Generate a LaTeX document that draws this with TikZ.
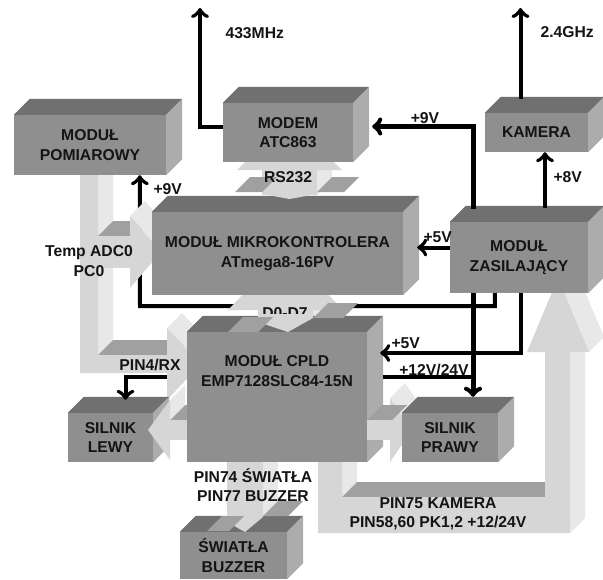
\documentclass[tikz,border=0pt]{standalone}
\usepackage{fontspec}
\setmainfont{Liberation Sans}
\usepackage{tikz}
\usetikzlibrary{arrows.meta,calc}
\definecolor{blokprzod}{RGB}{143,143,143}
\definecolor{blokgora}{RGB}{112,112,112}
\definecolor{blokbok}{RGB}{172,172,172}
\definecolor{wstprzod}{RGB}{214,214,214}
\definecolor{wstgora}{RGB}{160,160,160}
\definecolor{wstbok}{RGB}{232,232,232}
\definecolor{tekst}{RGB}{20,20,20}
\pgfdeclarelayer{tlo}
\pgfdeclarelayer{wstega}
\pgfdeclarelayer{wierzch}
\pgfsetlayers{tlo,wstega,main,wierzch}

\begin{document}
\begin{tikzpicture}[x=1pt,y=-1pt, >={Classical TikZ Rightarrow[length=10pt,width=18pt]},
  every node/.style={font=\fontsize{15.7}{19.5}\selectfont\bfseries,text=tekst,align=center},
  blok/.style={fill=blokprzod,inner sep=0pt},
  linia/.style={line width=4pt},
  gruba/.style={line width=5pt}]
\useasboundingbox (0,0) rectangle (603,579);
\begin{pgfonlayer}{tlo}
\fill[white] (0,0) rectangle (603,579);
\end{pgfonlayer}

% bloki
\node[blok,minimum width=152,minimum height=60] (pomiar) at (90,145) {MODUŁ\\POMIAROWY};
\node[blok,minimum width=130,minimum height=59] (modem) at (288,132.5) {MODEM\\ATC863};
\node[blok,minimum width=103,minimum height=39] (kamera) at (536.5,132.5) {KAMERA};
\node[blok,minimum width=251,minimum height=83] (mikro) at (277.5,253.5) {MODUŁ MIKROKONTROLERA\\ATmega8-16PV};
\node[blok,minimum width=138,minimum height=71] (zas) at (519,257.5) {MODUŁ\\ZASILAJĄCY};
\node[blok,minimum width=180,minimum height=130] (cpld) at (277,397) {MODUŁ CPLD\\EMP7128SLC84-15N\\[32pt]};
\node[blok,minimum width=85,minimum height=49] (lewy) at (110.5,437.5) {SILNIK\\LEWY};
\node[blok,minimum width=96,minimum height=49] (prawy) at (450,437.5) {SILNIK\\PRAWY};
\node[blok,minimum width=107,minimum height=47] (swiatla) at (233.5,555.5) {ŚWIATŁA\\BUZZER};
\foreach \n in {pomiar,modem,kamera,mikro,zas,cpld,lewy,prawy,swiatla}{
  \fill[blokgora] (\n.north west) -- ++(16,-16) -- ([shift={(16,-16)}]\n.north east) -- (\n.north east) -- cycle;
  \fill[blokbok] (\n.north east) -- ++(16,-16) -- ([shift={(16,-16)}]\n.south east) -- (\n.south east) -- cycle;
}

% wstegi (szerokie strzalki)
\begin{pgfonlayer}{wstega}
% RS232
\fill[wstbok] (317,150) -- (332,135) -- (332,180) -- (317,195) -- cycle;
\fill[wstprzod] (262,150) rectangle (317,195);
\fill[wstprzod] (237,170) -- (342,170) -- (289.5,120) -- cycle;
\fill[wstgora] (235,192) -- (262,192) -- (277,177) -- (250,177) -- cycle;
\fill[wstgora] (317,192) -- (344,192) -- (359,177) -- (332,177) -- cycle;
% D0-D7
\fill[wstbok] (313,285) -- (328,270) -- (328,303) -- (313,318) -- cycle;
\fill[wstprzod] (258,285) rectangle (313,318);
\fill[wstprzod] (228,310) -- (343,310) -- (285.5,250) -- cycle;
% lewa wstega
\fill[wstbok] (98,170) -- (113,155) -- (113,340) -- (98,355) -- cycle;
\fill[wstgora] (98,355) -- (172,355) -- (187,340) -- (113,340) -- cycle;
\fill[wstprzod] (80,170) -- (98,170) -- (98,355) -- (172,355) -- (172,373) -- (80,373) -- cycle;
\fill[wstbok] (167,328) -- (182,313) -- (216,349) -- (201,364) -- cycle;
\fill[wstprzod] (167,328) -- (201,364) -- (167,400) -- cycle;
% Temp ADC0
\fill[wstgora] (98,236) -- (132,236) -- (147,221) -- (113,221) -- cycle;
\fill[wstprzod] (98,236) rectangle (132,268);
\fill[wstbok] (130,216) -- (145,201) -- (176,237) -- (161,252) -- cycle;
\fill[wstprzod] (130,216) -- (161,252) -- (130,288) -- cycle;
% do silnika lewego
\fill[wstgora] (168,420) -- (195,420) -- (210,405) -- (183,405) -- cycle;
\fill[wstprzod] (168,420) rectangle (195,440);
% do silnika prawego
\fill[wstbok] (390,398) -- (405,383) -- (427,415) -- (412,430) -- cycle;
\fill[wstprzod] (390,398) -- (412,430) -- (390,462) -- cycle;
% swiatla
\fill[wstbok] (263,455) -- (278,440) -- (278,502) -- (263,517) -- cycle;
\fill[wstprzod] (227,455) rectangle (263,517);
% dolna wstega do zasilania
\fill[wstbok] (342,455) -- (357,440) -- (357,482) -- (342,497) -- cycle;
\fill[wstgora] (342,497) -- (545,497) -- (560,482) -- (357,482) -- cycle;
\fill[wstbok] (570,350) -- (585,335) -- (585,518) -- (570,533) -- cycle;
\fill[wstprzod] (318,455) -- (342,455) -- (342,497) -- (545,497) -- (545,350) -- (570,350) -- (570,533) -- (318,533) -- cycle;
\fill[wstbok] (558,278) -- (573,263) -- (604,337) -- (589,352) -- cycle;
\fill[wstprzod] (527,352) -- (589,352) -- (558,278) -- cycle;
\end{pgfonlayer}

\begin{pgfonlayer}{wierzch}
\fill[wstprzod] (262,194) -- (317,194) -- (289.5,199) -- cycle;
\fill[wstprzod] (258,314) -- (313,314) -- (313,318) -- (288,332) -- (258,322) -- cycle;
\fill[wstgora] (228,332) -- (258,332) -- (273,317) -- (243,317) -- cycle;
\fill[wstgora] (313,318) -- (343,318) -- (358,303) -- (328,303) -- cycle;
\fill[wstbok] (170,400) -- (185,385) -- (185,405) -- (170,420) -- cycle;
\fill[wstprzod] (170,400) -- (148,430) -- (170,460) -- cycle;
\fill[wstgora] (367,420) -- (392,420) -- (407,405) -- (382,405) -- cycle;
\fill[wstprzod] (367,420) rectangle (392,440);
\fill[wstprzod] (227,514) -- (263,514) -- (263,517) -- (245,532) -- (227,522) -- cycle;
\fill[wstgora] (207,531) -- (229,531) -- (244,516) -- (222,516) -- cycle;
\fill[wstgora] (263,516) -- (288,516) -- (303,501) -- (278,501) -- cycle;
\end{pgfonlayer}

% zasilanie i sygnaly
\coordinate (a433) at (200,8);
\coordinate (a24) at (520.5,8);
\coordinate (w9) at (140,306);
\coordinate (r12) at (473,377);
\draw[linia,->] ([shift={(0,-6)}]modem.west) -| (a433);
\draw[linia,->] ([shift={(-16,-14)}]kamera.north) -- (a24);
\draw[linia,->] ([shift={(26,-14)}]zas.north) -- ([shift={(8.5,0)}]kamera.south);
\draw[gruba,->] ([shift={(-46,-13)}]zas.north) |- ([shift={(19,-6)}]modem.east);
\draw[linia,->] ([shift={(0,-10)}]zas.west) -- ([shift={(14,-6)}]mikro.east);
\begin{pgfonlayer}{tlo}
\draw[linia,->] ([shift={(45,0)}]zas.south west) |- (w9) -- ([shift={(126,0)}]pomiar.south west);
\end{pgfonlayer}
\draw[linia,->] ([shift={(2,0)}]zas.south) |- ([shift={(13,-44)}]cpld.east);
\draw[gruba,->] ([shift={(-46,0)}]zas.south) -- ([shift={(23,-16)}]prawy.north);
\draw[linia] (r12) -- ([shift={(16,-20)}]cpld.east);
\draw[linia,->] ([shift={(-20,-20)}]cpld.west) -| ([shift={(15,-13)}]lewy.north);

% opisy
\node[anchor=west] (f433) at (222,33) {433MHz};
\node[anchor=west] (f24) at (537,32) {2.4GHz};
\node (u9a) at (425,118) {+9V};
\node (rs) at (288,177) {RS232};
\node[anchor=west] (u9b) at (150,189) {+9V};
\node[anchor=west] (u8) at (550,177) {+8V};
\node[anchor=west] (u5a) at (420,237) {+5V};
\node (temp) at (89,261) {Temp ADC0\\PC0};
\node (dd) at (285,313) {D0-D7};
\node (pin4) at (150,365) {PIN4/RX};
\node[anchor=west] (u5b) at (388,343) {+5V};
\node (u12) at (434,370) {+12V/24V};
\node (pin74) at (253,485) {PIN74 ŚWIATŁA\\PIN77 BUZZER};
\node (pin75) at (438,514) {PIN75 KAMERA\\PIN58,60 PK1,2 +12/24V};
\end{tikzpicture}
\end{document}
